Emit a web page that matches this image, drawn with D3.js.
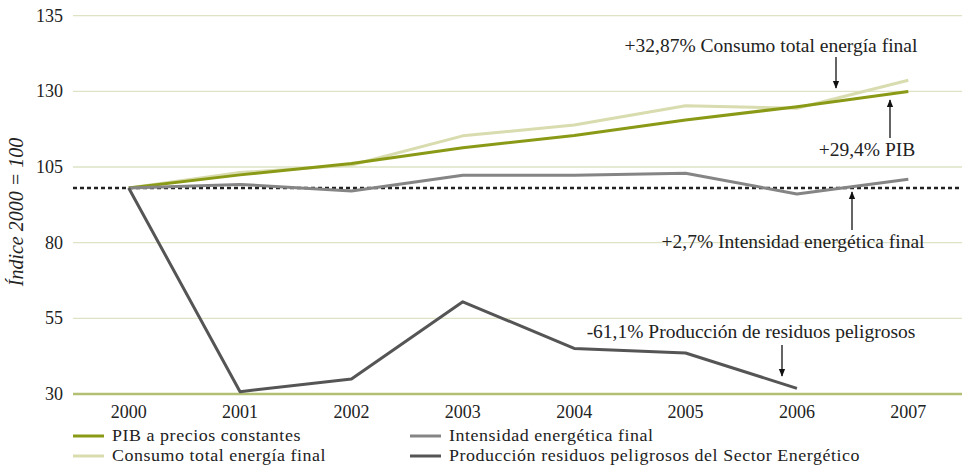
<!DOCTYPE html>
<html><head><meta charset="utf-8">
<script src="https://cdn.jsdelivr.net/npm/d3@7"></script>
<style>body{margin:0;background:#fff}svg{display:block}</style>
</head><body><svg id="c" width="962" height="467" font-family="'Liberation Serif', 'Times New Roman', Tinos, 'DejaVu Serif', 'Noto Serif', serif"></svg>
<script>
const years = ["2000","2001","2002","2003","2004","2005","2006","2007"];
const pib = [100, 104.0, 107.5, 112.3, 116.0, 120.7, 124.8, 129.4];
const consumo = [100, 104.7, 107.0, 115.9, 119.2, 125.1, 124.3, 132.87];
const intensidad = [100, 101.1, 99.1, 103.9, 103.9, 104.5, 98.2, 102.7];
const residuos = [100, 37.9, 41.8, 65.3, 51.1, 49.7, 38.9];
const tickLabels = ["30","55","80","105","130","135"];
const seriesNames = ["PIB a precios constantes","Consumo total energía final","Intensidad energética final","Producción residuos peligrosos del Sector Energético"];
const baseValue = 100;
const annotations = [
  {text:"+32,87% Consumo total energía final", year:"2007", value:132.87},
  {text:"+29,4% PIB", year:"2007", value:129.4},
  {text:"+2,7% Intensidad energética final", year:"2007", value:102.7},
  {text:"-61,1% Producción de residuos peligrosos", year:"2006", value:38.9}
];

const svg = d3.select("#c");
const L = 73, R = 964;
const x = d3.scalePoint().domain(years).range([L, R]).padding(0.5);
const y = d3.scaleLinear().domain([30, 135]).range([417.6, 73.2]);
const yGrid = d3.scalePoint().domain(tickLabels).range([394, 15.7]);
const txtColor = "#222";

svg.append("g").selectAll("line").data(tickLabels).join("line")
  .attr("x1", L).attr("x2", 962)
  .attr("y1", d => yGrid(d)).attr("y2", d => yGrid(d))
  .attr("stroke", d => d === "30" ? "#b3bf72" : "#dde3c4")
  .attr("stroke-width", d => d === "30" ? 2.5 : 1.3);
svg.append("g").selectAll("text").data(tickLabels).join("text")
  .attr("x", 63).attr("y", d => yGrid(d) + 6).attr("text-anchor","end")
  .attr("font-size", 18).attr("fill", txtColor).text(d => d);

svg.append("text").attr("transform","translate(23,212) rotate(-90)")
  .attr("text-anchor","middle").attr("font-size",20).attr("font-style","italic").attr("fill", txtColor)
  .text("Índice 2000 = 100");

svg.append("g").selectAll("text").data(years).join("text")
  .attr("x", d => x(d)).attr("y", 418).attr("text-anchor","middle")
  .attr("font-size", 18).attr("fill", txtColor).text(d => d);

svg.append("line").attr("x1", L).attr("x2", 962)
  .attr("y1", y(baseValue)).attr("y2", y(baseValue))
  .attr("stroke","#222").attr("stroke-width",2.6).attr("stroke-dasharray","4,3");

const colors = ["#8a9a16","#d8dcae","#858585","#555555"];
const data = [pib, consumo, intensidad, residuos];
const line = d3.line().x((d,i) => x(years[i])).y(d => y(d));
[1,0,2,3].forEach(k => {
  svg.append("path").datum(data[k]).attr("d", line)
    .attr("fill","none").attr("stroke", colors[k]).attr("stroke-width", 3)
    .attr("stroke-linejoin","round");
});

const defs = svg.append("defs");
defs.append("marker").attr("id","ah").attr("viewBox","0 0 10 10").attr("refX",9).attr("refY",5)
  .attr("markerWidth",8).attr("markerHeight",8).attr("orient","auto-start-reverse").attr("markerUnits","userSpaceOnUse")
  .append("path").attr("d","M0,1 L10,5 L0,9 Z").attr("fill","#111");

const annLayout = [
  {tx:771, ty:52, ax:836, ay1:57, ay2:88},
  {tx:867, ty:156, ax:890, ay1:138, ay2:100},
  {tx:793, ty:248, ax:852, ay1:230, ay2:192},
  {tx:751, ty:338, ax:782, ay1:345, ay2:376}
];
annotations.forEach((a,i) => {
  const p = annLayout[i];
  svg.append("text").attr("x", p.tx).attr("y", p.ty).attr("text-anchor","middle")
    .attr("font-size", 19.5).attr("fill", txtColor).text(a.text);
  svg.append("line").attr("x1", p.ax).attr("x2", p.ax).attr("y1", p.ay1).attr("y2", p.ay2)
    .attr("stroke","#111").attr("stroke-width",1.3).attr("marker-end","url(#ah)");
});

const legPos = [[73,436],[73,456],[410,436],[410,456]];
seriesNames.forEach((n,i) => {
  const [lx, ly] = legPos[i];
  svg.append("line").attr("x1", lx).attr("x2", lx+31).attr("y1", ly).attr("y2", ly)
    .attr("stroke", colors[i]).attr("stroke-width", 3);
  svg.append("text").attr("transform", `translate(${lx+39},${ly+5}) scale(1.12,1)`)
    .attr("font-size", 16).attr("letter-spacing", 0.5).attr("fill", txtColor).text(n);
});
</script></body></html>
